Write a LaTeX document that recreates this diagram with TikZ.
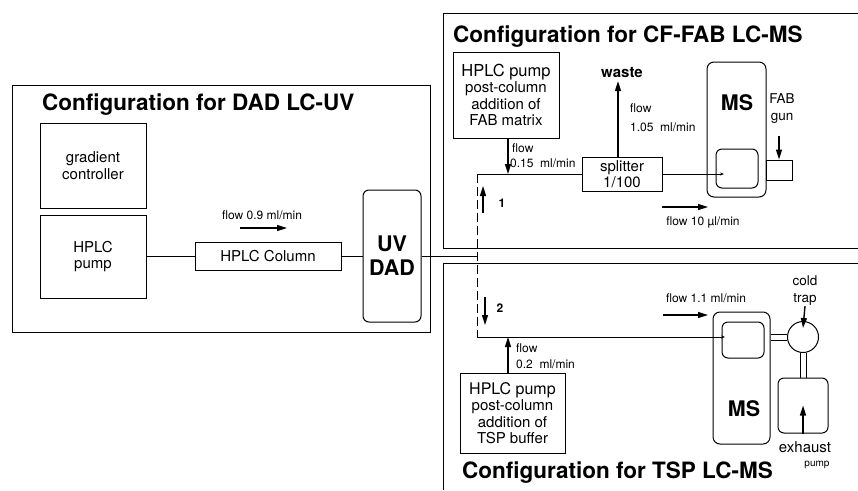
\documentclass[tikz,border=0pt]{standalone}
\usepackage{fontspec}
\setmainfont{TeX Gyre Heros}
\usetikzlibrary{arrows.meta,backgrounds}

\tikzset{
	panel/.style={line width=1pt},
	unitbox/.style={draw, line width=1pt, inner sep=0pt, align=center, font=\fontsize{15}{16.5}\selectfont},
	chamber/.style={unitbox, rounded corners=6pt},
	titletext/.style={inner sep=0pt, font=\bfseries\fontsize{22.5}{27}\selectfont},
	bigtext/.style={inner sep=0pt, align=center, font=\bfseries\fontsize{21.5}{24}\selectfont},
	flowtext/.style={inner sep=0pt, font=\fontsize{12}{16.5}\selectfont},
	labeltext/.style={inner sep=0pt, align=center, font=\fontsize{13.5}{17}\selectfont},
	pathno/.style={inner sep=0pt, font=\bfseries\fontsize{12}{14}\selectfont},
	flowarrow/.style={-{Triangle[length=10pt,width=6pt]}, line width=1.4pt},
	pipe/.style={line width=1pt},
	tube/.style={double, double distance=5pt, line width=1pt},
	bypass/.style={line width=0.8pt, dash pattern=on 9pt off 4pt},
}

\begin{document}
\begin{tikzpicture}[x=1pt, y=-1pt]
	\useasboundingbox (0,0) rectangle (858,490);

	% DAD LC-UV
	\draw[panel] (12,85) rectangle (430,332);
	\node[titletext, anchor=base west] (dadtitle) at (42,110) {Configuration for DAD LC-UV};
	\node[unitbox, minimum width=106, minimum height=85] (gradient) at (93,165.5) {gradient\\controller};
	\node[unitbox, minimum width=106, minimum height=83] (pump) at (93,256.5) {HPLC\\pump};
	\node[unitbox, minimum width=146, minimum height=28] (column) at (268,256) {HPLC Column};
	\node[chamber, minimum width=58, minimum height=132, font=\bfseries\fontsize{21.5}{24}\selectfont] (dad) at (392,256) {UV\\DAD};
	\draw[pipe] (pump.east |- column.west) -- (column.west);
	\draw[pipe] (column.east) -- (dad.west |- column.east);
	\node[flowtext] (flowdad) at (262,215) {flow 0.9 ml/min};
	\draw[flowarrow] (240,228) -- (287,228);

	\coordinate (j0) at (477,256);
	\coordinate (j1) at (477,174);
	\coordinate (j2) at (477,337);
	\draw[pipe] (dad.east |- j0) -- (j0);
	\draw[bypass] (j1) -- (j2);

	% CF-FAB LC-MS
	\draw[panel] (858,13) -- (443,13) -- (443,248) -- (858,248);
	\node[titletext, anchor=base west] (fabtitle) at (453,42) {Configuration for CF-FAB LC-MS};
	\node[unitbox, minimum width=106, minimum height=86] (fabpump) at (506,95) {{\fontsize{16.5}{17}\selectfont HPLC pump}\\post-column\\addition of\\FAB matrix};
	\node[unitbox, minimum width=80, minimum height=34] (splitter) at (622,174) {splitter\\1/100};
	\node[chamber, minimum width=59, minimum height=135, rounded corners=7pt] (fabms) at (736.5,129.5) {};
	\node[chamber, minimum width=42, minimum height=39] (fabinlet) at (737,168.5) {};
	\node[bigtext] at (737,103) {MS};
	\node[unitbox, minimum width=26, minimum height=20] (gun) at (779,170) {};
	\node[labeltext] (gunlabel) at (782,109) {FAB\\gun};
	\draw[flowarrow] ([yshift=24pt]gun.north) -- (gun.north);

	\draw[pipe] (j1) -- (splitter.west);
	\draw[flowarrow] ([xshift=2pt]fabpump.south) -- ([xshift=2pt]fabpump.south |- j1);
	\node[flowtext, anchor=west] at (512,148) {flow};
	\node[flowtext, anchor=west] at (510,163) {0.15\ \ ml/min};
	\node[inner sep=0pt, outer sep=3pt, font=\bfseries\fontsize{15}{16}\selectfont] (waste) at (622,73) {waste};
	\draw[flowarrow] ([xshift=-4pt]splitter.north) -- ([xshift=-4pt]splitter.north |- waste.south);
	\node[flowtext, anchor=west] at (630,108) {flow};
	\node[flowtext, anchor=west] at (630,127) {1.05\ \ ml/min};
	\coordinate (fabend) at (724,174);
	\draw[pipe, -{Stealth[length=4pt,width=3pt]}] (splitter.east) -- (fabend);
	\draw[flowarrow] (662,207) -- (708,207);
	\node[flowtext] at (703,222) {flow 10 µl/min};
	\draw[flowarrow] (483,213) -- (483,186);
	\node[pathno] at (502,203) {1};

	% TSP LC-MS
	\draw[panel] (858,263) -- (443,263) -- (443,490);
	\node[titletext, anchor=base west] (tsptitle) at (462,478) {Configuration for TSP LC-MS};
	\draw[flowarrow] (485,297) -- (485,325);
	\node[pathno] at (500,308) {2};
	\node[unitbox, minimum width=105, minimum height=80] (tsppump) at (512.5,413) {{\fontsize{16}{17}\selectfont HPLC pump}\\post-column\\addition of\\TSP buffer};
	\draw[flowarrow] ([xshift=-4.5pt]tsppump.north) -- ([xshift=-4.5pt]tsppump.north |- j2);
	\node[flowtext, anchor=west] at (516,348) {flow};
	\node[flowtext, anchor=west] at (516,364) {0.2\ \ ml/min};
	\node[chamber, minimum width=57, minimum height=132, rounded corners=7pt] (tspms) at (741.5,378) {};
	\node[chamber, minimum width=42, minimum height=36] (tspinlet) at (743,340) {};
	\node[bigtext] at (744,409) {MS};
	\coordinate (tspend) at (725,337);
	\draw[pipe, -{Stealth[length=4pt,width=3pt]}] (j2) -- (tspend);
	\draw[flowarrow] (663,315) -- (708,315);
	\node[flowtext] at (706,298) {flow 1.1 ml/min};
	\node[draw, circle, line width=1pt, minimum size=31, inner sep=0pt] (trap) at (803,337) {};
	\node[chamber, minimum width=50, minimum height=55] (exhaust) at (803,405.5) {};
	\begin{scope}[on background layer]
		\draw[tube] (tspms.east |- trap) -- (trap.west);
		\draw[tube] (trap.south) -- (exhaust.north);
	\end{scope}
	\node[labeltext] (traplabel) at (805,291) {cold\\trap};
	\draw[flowarrow] (traplabel.south) -- ([yshift=-7pt]trap.north);
	\draw[flowarrow] (exhaust.south) -- (exhaust.center);
	\node[inner sep=0pt, font=\fontsize{15}{16}\selectfont] at (805,447) {exhaust};
	\node[inner sep=0pt, font=\fontsize{10}{12}\selectfont] at (817,465) {pump};
\end{tikzpicture}
\end{document}
